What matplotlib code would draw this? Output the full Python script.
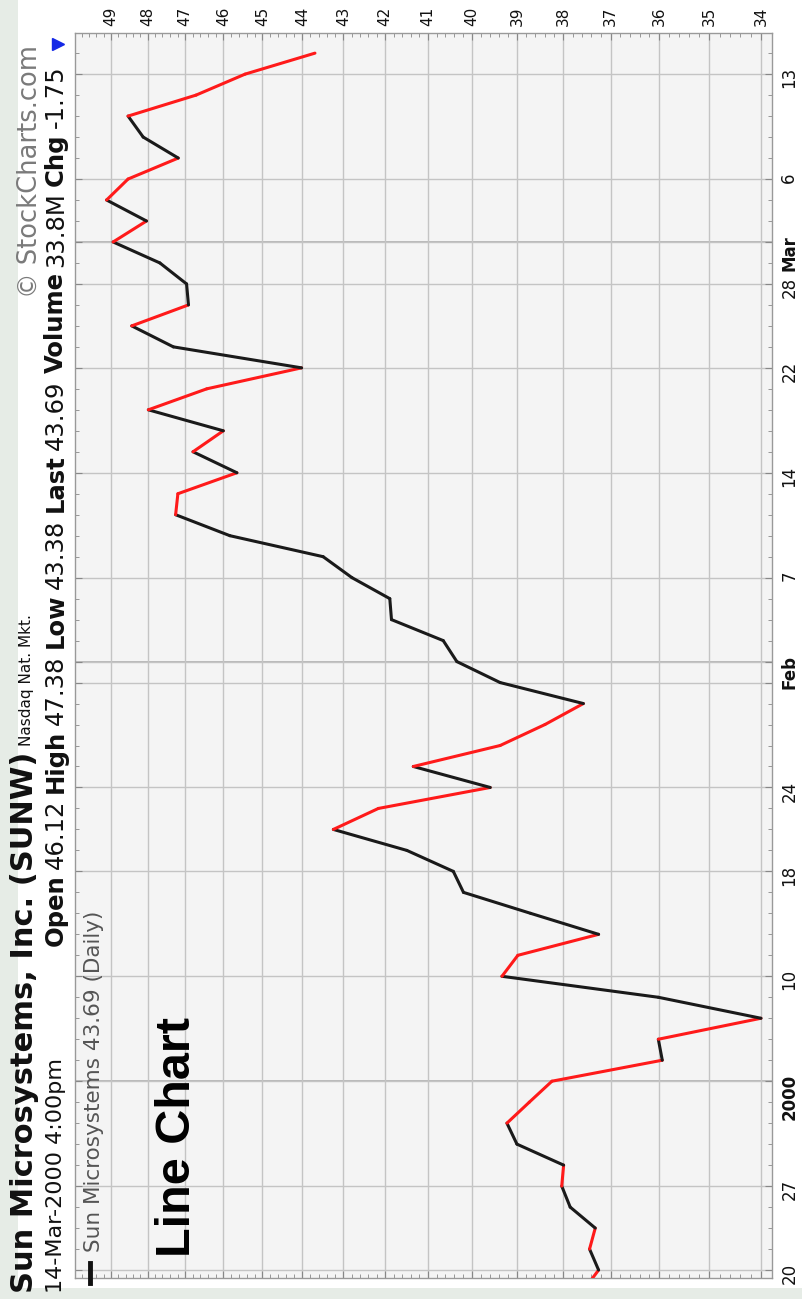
import matplotlib
matplotlib.use("Agg")
import matplotlib.pyplot as plt
import numpy as np
from matplotlib.collections import LineCollection
from matplotlib.ticker import FixedLocator, NullFormatter
from matplotlib.lines import Line2D
from matplotlib.patches import Rectangle

# ---------------- data ----------------
dates = ["Dec 17", "Dec 20", "Dec 21", "Dec 22", "Dec 23", "Dec 27", "Dec 28", "Dec 29", "Dec 30", "Dec 31",
         "Jan 3", "Jan 4", "Jan 5", "Jan 6", "Jan 7", "Jan 10", "Jan 11", "Jan 12", "Jan 13", "Jan 14",
         "Jan 18", "Jan 19", "Jan 20", "Jan 21", "Jan 24", "Jan 25", "Jan 26", "Jan 27", "Jan 28", "Jan 31",
         "Feb 1", "Feb 2", "Feb 3", "Feb 4", "Feb 7", "Feb 8", "Feb 9", "Feb 10", "Feb 11", "Feb 14",
         "Feb 15", "Feb 16", "Feb 17", "Feb 18", "Feb 22", "Feb 23", "Feb 24", "Feb 25", "Feb 28", "Feb 29",
         "Mar 1", "Mar 2", "Mar 3", "Mar 6", "Mar 7", "Mar 8", "Mar 9", "Mar 10", "Mar 13", "Mar 14"]
closes = [37.58, 37.25, 37.44, 37.32, 37.85, 38.03, 37.99, 39.00, 39.22, 38.73,
          38.24, 35.94, 36.02, 34.00, 36.02, 39.33, 38.98, 37.25, 38.70, 40.19,
          40.42, 41.49, 43.24, 42.16, 39.59, 41.34, 39.37, 38.39, 37.57, 39.37,
          40.34, 40.65, 41.85, 41.89, 42.79, 43.49, 45.83, 47.25, 47.19, 45.65,
          46.79, 46.00, 47.98, 46.43, 44.02, 47.31, 48.43, 46.91, 46.96, 47.67,
          48.94, 48.03, 49.12, 48.53, 47.18, 48.12, 48.53, 46.71, 45.44, 43.69]
price_ticks = [34, 35, 36, 37, 38, 39, 40, 41, 42, 43, 44, 45, 46, 47, 48, 49]
date_tick_dates = ["Dec 20", "Dec 27", "Jan 3", "Jan 10", "Jan 18", "Jan 24", "Jan 31", "Feb 1",
                   "Feb 7", "Feb 14", "Feb 22", "Feb 28", "Mar 1", "Mar 6", "Mar 13"]
date_tick_labels = ["20", "27", "2000", "10", "18", "24", "", "Feb", "7", "14", "22", "28", "Mar", "6", "13"]
month_labels = ["2000", "Feb", "Mar"]

title = "Sun Microsystems, Inc. (SUNW)"
exchange = "Nasdaq Nat. Mkt."
stamp = "14-Mar-2000 4:00pm"
stats = [("Open", "46.12"), ("High", "47.38"), ("Low", "43.38"), ("Last", "43.69"),
         ("Volume", "33.8M"), ("Chg", "-1.75")]
legend_text = "Sun Microsystems 43.69 (Daily)"
copyright_text = "\u00a9 StockCharts.com"
chart_type = "Line Chart"

# ---------------- figure ----------------
W, H = 802, 1299
fig = plt.figure(figsize=(W / 100, H / 100), dpi=100)
fig.patch.set_facecolor("#e6ece6")
fig.add_artist(Rectangle((18 / W, 1 - 1288 / H), 1 - 18 / W, 1288 / H,
                         transform=fig.transFigure, facecolor="white", edgecolor="none", zorder=0))

ax = fig.add_axes([75 / W, 1 - 1278 / H, (772 - 75) / W, (1278 - 33) / H])
ax.set_facecolor("#f4f4f4")

pos = np.arange(len(dates)) - dates.index("Dec 20")
ax.set_xscale("log")
ax.set_xlim(50.0, 33.79)
ax.set_ylim(-0.38, 58.96)

# colored line: red when price falls, black otherwise
pts = np.column_stack([closes, pos])
segs = np.stack([pts[:-1], pts[1:]], axis=1)
cols = ["#ff1a1a" if closes[i + 1] < closes[i] else "#1a1a1a" for i in range(len(closes) - 1)]
lc = LineCollection(segs, colors=cols, linewidths=2.2, capstyle="round", joinstyle="round", zorder=3)
ax.add_collection(lc)

# ticks / grid
ax.set_xticks(price_ticks, labels=[str(p) for p in price_ticks])
ax.xaxis.set_minor_locator(FixedLocator(np.arange(34, 50.01, 0.2)))
ax.xaxis.set_minor_formatter(NullFormatter())
ax.xaxis.tick_top()
ax.tick_params(axis="x", which="both", top=True, bottom=True, labeltop=True, labelbottom=False,
               direction="in", colors="#888888", labelcolor="#111111", labelsize=11, labelrotation=90, pad=5)
ax.tick_params(axis="x", which="major", length=5)
ax.tick_params(axis="x", which="minor", length=3)

tick_pos = [pos[dates.index(d)] for d in date_tick_dates]
ax.set_yticks(tick_pos, labels=date_tick_labels)
ax.yaxis.set_minor_locator(FixedLocator(pos))
ax.yaxis.tick_right()
ax.tick_params(axis="y", which="both", left=True, right=True, labelright=True, labelleft=False,
               direction="in", colors="#888888", labelcolor="#111111", labelsize=12, labelrotation=90, pad=6)
ax.tick_params(axis="y", which="major", length=5)
ax.tick_params(axis="y", which="minor", length=3)
for lab in ax.get_yticklabels():
    if lab.get_text() in month_labels:
        lab.set_fontweight("bold")

ax.grid(True, which="major", color="#c4c4c4", linewidth=1.0, zorder=1)
for d in ["Jan 3", "Feb 1", "Mar 1"]:
    ax.axhline(pos[dates.index(d)], color="#a8a8a8", linewidth=1.1, zorder=1)
for s in ax.spines.values():
    s.set_color("#999999")
    s.set_linewidth(1.0)

# ---------------- header text (rotated) ----------------
renderer = fig.canvas.get_renderer()


def put(x_img, y_img, text, size, weight="normal", color="#111111", family="DejaVu Sans"):
    t = fig.text(x_img / W, 1 - y_img / H, text, rotation=90, rotation_mode="anchor",
                 ha="left", va="baseline", fontsize=size, fontweight=weight, color=color,
                 family=family, zorder=5)
    return t


def end_of(t):
    bb = t.get_window_extent(renderer)
    return H - bb.y1  # image y of the text end


t = put(33, 1293, title, 22, "bold")
put(31, end_of(t) - 6, exchange, 11)
put(37, 298, copyright_text, 18.5, color="#7a7a7a")

put(62, 1293, stamp, 16)
y = 946
for lbl, val in stats:
    t = put(63, y, lbl, 17.5, "bold")
    y = end_of(t) - 5
    t = put(63, y, val, 17.5)
    y = end_of(t) - 7
fig.add_artist(Line2D([58 / W], [1 - 44 / H], marker=">", markersize=9, color="#1428e6",
                      linestyle="none", transform=fig.transFigure))

# legend in plot
fig.add_artist(Line2D([90 / W, 90 / W], [1 - 1283 / H, 1 - 1263 / H], color="#111111", lw=3.5,
                      transform=fig.transFigure, zorder=5))
put(100, 1252, legend_text, 15.5, color="#555555")

put(190, 1257, chart_type, 35, "bold", color="#000000", family="Liberation Sans")

fig.savefig("out.png", dpi=100, facecolor=fig.get_facecolor())
